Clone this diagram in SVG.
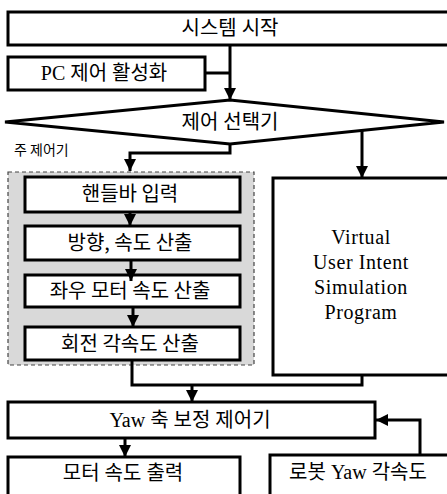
<svg xmlns="http://www.w3.org/2000/svg" width="447" height="494" viewBox="0 0 447 494">
<style>
.box{fill:#fff;stroke:#000;stroke-width:3}
.t{font-family:"Liberation Serif","Noto Sans CJK KR",serif;font-size:20px;fill:#000;text-anchor:middle}
.s{font-family:"Noto Sans CJK KR","Liberation Sans",sans-serif;font-size:20px;fill:#000;text-anchor:middle}
.v{font-family:"Liberation Serif",serif;font-size:20px;fill:#000;text-anchor:middle;letter-spacing:0.6px}
.lbl{font-family:"Noto Sans CJK KR","Liberation Sans",sans-serif;font-size:14px;fill:#000}
.c{fill:none;stroke:#000;stroke-width:3}
</style>
<defs>
<marker id="ah" markerUnits="userSpaceOnUse" markerWidth="12" markerHeight="12" viewBox="0 0 12 12" refX="12" refY="6" orient="auto">
<path d="M0,0 L12,6 L0,12 z" fill="#000"/>
</marker>
</defs>
<rect width="447" height="494" fill="#fff"/>
<g id="start"><rect class="box" x="8" y="12" width="445" height="33"/><text class="t" x="230" y="35">시스템 시작</text></g>
<g id="pc"><rect class="box" x="8" y="57" width="197" height="33"/><text class="t" x="104" y="80">PC 제어 활성화</text></g>
<g id="selector"><polygon class="box" points="5,122 230,100 444,122 230,144"/><text class="t" x="230" y="129">제어 선택기</text></g>
<g id="main-label"><text class="lbl" x="14" y="155">주 제어기</text></g>
<g id="main-group"><rect x="8" y="172" width="246" height="193" fill="#d9d9d9" stroke="#444" stroke-width="1.2" stroke-dasharray="4 3"/></g>
<g id="handlebar"><rect class="box" x="25" y="177" width="215" height="35"/><text class="s" x="130" y="201">핸들바 입력</text></g>
<g id="direction"><rect class="box" x="25" y="226" width="215" height="34"/><text class="s" x="130" y="250">방향, 속도 산출</text></g>
<g id="motors"><rect class="box" x="25" y="275" width="215" height="32"/><text class="s" x="130" y="298">좌우 모터 속도 산출</text></g>
<g id="rotation"><rect class="box" x="25" y="327" width="215" height="33"/><text class="s" x="130" y="351">회전 각속도 산출</text></g>
<g id="virtual"><rect class="box" x="273" y="178" width="180" height="197"/>
<text class="v" x="361" y="244">Virtual</text>
<text class="v" x="361" y="269">User Intent</text>
<text class="v" x="361" y="294">Simulation</text>
<text class="v" x="361" y="319">Program</text></g>
<g id="yaw"><rect class="box" x="8" y="402" width="367" height="36"/><text class="t" x="190" y="427">Yaw 축 보정 제어기</text></g>
<g id="output"><rect class="box" x="8" y="457" width="232" height="45"/><text class="t" x="123" y="480">모터 속도 출력</text></g>
<g id="robot"><rect class="box" x="270" y="455" width="183" height="45"/><text class="t" x="358" y="479">로봇 Yaw 각속도</text></g>
<g id="connectors">
<path class="c" d="M230,45 V100" marker-end="url(#ah)"/>
<path class="c" d="M205,73 H230"/>
<path class="c" d="M230,144 V153 H130 V171" marker-end="url(#ah)"/>
<path class="c" d="M362,130 V178" marker-end="url(#ah)"/>
<path class="c" d="M130,212 V226" marker-end="url(#ah)"/>
<path class="c" d="M131,260 V281" marker-end="url(#ah)"/>
<path class="c" d="M133,307 V327" marker-end="url(#ah)"/>
<path class="c" d="M132,360 V385 H362 V375"/>
<path class="c" d="M192,385 V402" marker-end="url(#ah)"/>
<path class="c" d="M125,438 V457" marker-end="url(#ah)"/>
<path class="c" d="M420,455 V420 H376" marker-end="url(#ah)"/>
</g>
</svg>
